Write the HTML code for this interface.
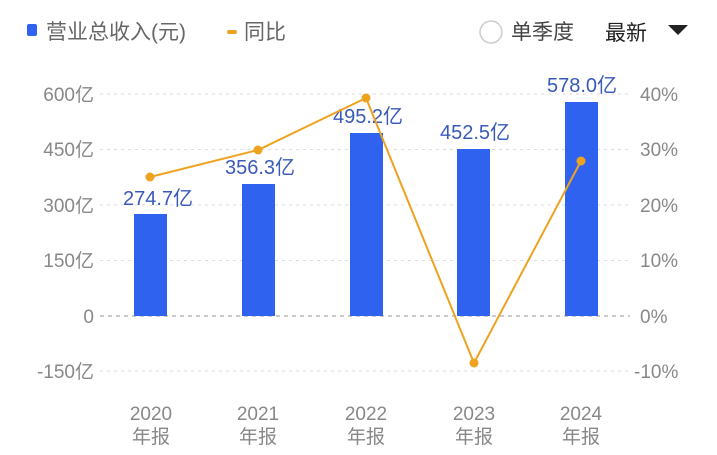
<!DOCTYPE html>
<html><head><meta charset="utf-8"><style>
body{margin:0;background:#fff;width:717px;height:455px;overflow:hidden}
svg{display:block;font-family:"Liberation Sans","Noto Sans CJK SC",sans-serif}
</style></head><body>
<svg width="717" height="455" viewBox="0 0 717 455">
<rect x="27" y="24" width="10" height="12" rx="2" fill="#2f63ef"/>
<text x="46" y="39" font-size="21" fill="#666">营业总收入(元)</text>
<rect x="227" y="30" width="10" height="4" rx="2" fill="#f0a020"/>
<text x="244" y="39" font-size="21" fill="#666">同比</text>
<circle cx="491" cy="32" r="11" fill="none" stroke="#ccc" stroke-width="1.5"/>
<text x="511" y="39" font-size="21" fill="#444">单季度</text>
<text x="605" y="40" font-size="21" fill="#222">最新</text>
<path d="M668 25 L688 25 L678 35 Z" fill="#222"/>
<g stroke="#ddd" stroke-dasharray="3,4" stroke-width="1">
<line x1="100" y1="94" x2="630" y2="94"/>
<line x1="100" y1="149.5" x2="630" y2="149.5"/>
<line x1="100" y1="205" x2="630" y2="205"/>
<line x1="100" y1="260.5" x2="630" y2="260.5"/>
<line x1="100" y1="371" x2="630" y2="371"/>
</g>
<line x1="100" y1="316" x2="630" y2="316" stroke="#999" stroke-dasharray="4,4"/>
<g font-size="19" fill="#888" text-anchor="end">
<text x="94" y="101">600亿</text><text x="94" y="156">450亿</text><text x="94" y="212">300亿</text>
<text x="94" y="267">150亿</text><text x="94" y="323">0</text><text x="94" y="378">-150亿</text>
</g>
<g font-size="19" fill="#888">
<text x="640" y="101">40%</text><text x="640" y="156">30%</text><text x="640" y="212">20%</text>
<text x="640" y="267">10%</text><text x="640" y="323">0%</text><text x="634" y="378">-10%</text>
</g>
<g fill="#2f63ef">
<rect x="134" y="214" width="33" height="102"/>
<rect x="242" y="184" width="33" height="132"/>
<rect x="350" y="133" width="33" height="183"/>
<rect x="457" y="149" width="33" height="167"/>
<rect x="565" y="102" width="33" height="214"/>
</g>
<g font-size="20" fill="#3a5ab8" text-anchor="middle">
<text x="158" y="205">274.7亿</text><text x="260" y="174">356.3亿</text>
<text x="368" y="123">495.2亿</text><text x="475" y="139">452.5亿</text><text x="582" y="92">578.0亿</text>
</g>
<polyline points="150,177 258,150 366,98 474,363 581,161" fill="none" stroke="#eea320" stroke-width="2"/>
<g fill="#eea320">
<circle cx="150" cy="177" r="4.5"/><circle cx="258" cy="150" r="4.5"/><circle cx="366" cy="98" r="4.5"/>
<circle cx="474" cy="363" r="4.5"/><circle cx="581" cy="161" r="4.5"/>
</g>
<g font-size="19" fill="#888" text-anchor="middle">
<text x="151" y="420">2020</text><text x="151" y="443">年报</text>
<text x="258" y="420">2021</text><text x="258" y="443">年报</text>
<text x="366" y="420">2022</text><text x="366" y="443">年报</text>
<text x="474" y="420">2023</text><text x="474" y="443">年报</text>
<text x="581" y="420">2024</text><text x="581" y="443">年报</text>
</g>
</svg>
</body></html>
